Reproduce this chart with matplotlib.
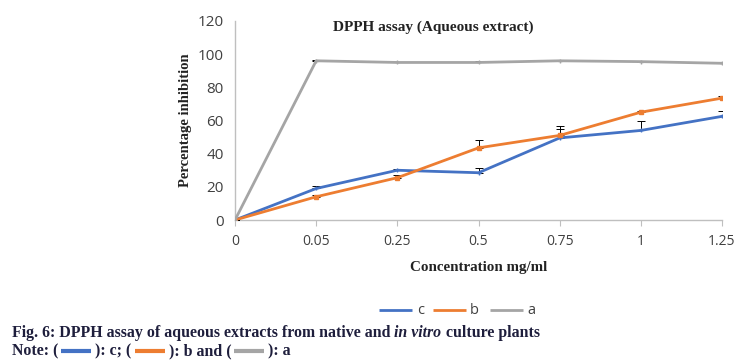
import matplotlib
matplotlib.use("Agg")
import matplotlib.pyplot as plt
import numpy as np
from matplotlib.lines import Line2D

conc = ["0", "0.05", "0.25", "0.5", "0.75", "1", "1.25"]
c_vals = [0, 19, 30, 28.5, 49.5, 54, 62.5]
c_err = [0, 1.5, 0.5, 3, 7, 6, 3.5]
b_vals = [0, 14, 25.5, 43.5, 51, 65, 73.5]
b_err = [0, 0.8, 1.5, 4.5, 4, 1, 1]
a_vals = [0, 96, 95, 95, 96, 95.5, 94.5]
a_err = [0, 0.5, 0.5, 1, 0.5, 0.3, 0.8]

blue = "#4472C4"
orange = "#ED7D31"
gray = "#A5A5A5"
navy = "#1e1e3c"
tickc = "#404040"

W, H = 744, 363
fig = plt.figure(figsize=(W / 100, H / 100), dpi=100)
ax = fig.add_axes([235 / W, 1 - 220 / H, (722 - 235) / W, (220 - 21) / H])

x = np.arange(len(conc))
series = [("c", c_vals, c_err, blue, "+"), ("b", b_vals, b_err, orange, "s"), ("a", a_vals, a_err, gray, "+")]
for name, v, e, col, m in series:
    ax.errorbar(x, v, yerr=[np.zeros(len(e)), e], color=col, lw=2, marker=m, ms=3,
                ecolor="black", elinewidth=0.7, capsize=3, capthick=0.7, zorder=3)

ax.set_xlim(0, 6)
ax.set_ylim(0, 120)
ax.set_xticks(x)
ax.set_xticklabels(conc)
ax.set_yticks(np.arange(0, 121, 20))
for s in ["top", "right"]:
    ax.spines[s].set_visible(False)
for s in ["left", "bottom"]:
    ax.spines[s].set_color("#BFBFBF")
    ax.spines[s].set_linewidth(1)
ax.tick_params(axis="y", length=0, labelsize=11, labelcolor=tickc, pad=8)
ax.tick_params(axis="x", length=4, color="#BFBFBF", labelsize=10, labelcolor=tickc, pad=6)
for lab in ax.get_xticklabels() + ax.get_yticklabels():
    lab.set_family("Open Sans")

ax.text(433 / W, 1 - 27 / H, "DPPH assay (Aqueous extract)", transform=fig.transFigure,
        ha="center", va="center", fontsize=11, fontweight="bold", family="Liberation Serif", color="#222222")
fig.text(185 / W, 1 - 120 / H, "Percentage inhibition", rotation=90, ha="center", va="center",
         fontsize=10.5, fontweight="bold", family="Liberation Serif", color="#222222")
fig.text(479 / W, 1 - 268 / H, "Concentration mg/ml", ha="center", va="center",
         fontsize=10.8, fontweight="bold", family="Liberation Serif", color="#222222")

# legend
ly = 1 - 310 / H
for (x0, x1, tx, col, lab) in [(379, 412, 417, blue, "c"), (433, 466, 470, orange, "b"), (490, 523, 527, gray, "a")]:
    fig.add_artist(Line2D([x0 / W, x1 / W], [ly, ly], color=col, lw=2, solid_capstyle="butt"))
    fig.text(tx / W, ly, lab, ha="left", va="center", fontsize=10.5, family="Open Sans", color="#404040")

# caption
fig.canvas.draw()
renderer = fig.canvas.get_renderer()


def seq(parts, x0, y):
    xp = x0
    for p in parts:
        if isinstance(p, tuple) and p[0] == "line":
            col = p[1]
            fig.add_artist(Line2D([(xp + 3) / W, (xp + 33) / W], [y, y], color=col, lw=3,
                                  solid_capstyle="butt"))
            xp += 37
            continue
        txt, style = p
        t = fig.text(xp / W, y, txt, ha="left", va="center", fontsize=11.4, family="Liberation Serif",
                     fontweight="bold", fontstyle=style, color=navy)
        bb = t.get_window_extent(renderer=renderer)
        xp += bb.width


seq([("Fig. 6: DPPH assay of aqueous extracts from native and ", "normal"), ("in vitro", "italic"),
     (" culture plants", "normal")], 12, 1 - 333 / H)
seq([("Note: (", "normal"), ("line", blue), ("): c; (", "normal"), ("line", orange), ("): b and (", "normal"),
     ("line", gray), ("): a", "normal")], 12, 1 - 351 / H)

fig.savefig("out.png", dpi=100)
